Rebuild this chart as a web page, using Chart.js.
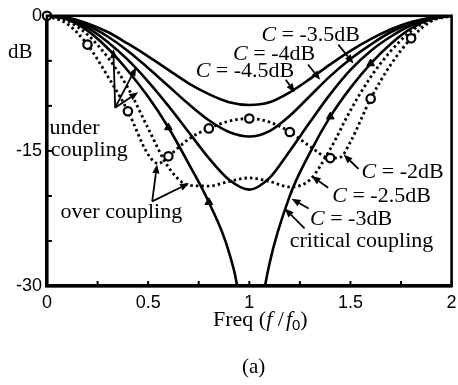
<!DOCTYPE html>
<html>
<head>
<meta charset="utf-8">
<script src="https://cdn.jsdelivr.net/npm/chart.js@4.4.0/dist/chart.umd.min.js"></script>
<style>
  html, body { margin: 0; padding: 0; background: #fff; }
  #wrap { width: 458px; height: 385px; }
</style>
</head>
<body>
<div id="wrap"><canvas id="myChart" width="458" height="385"></canvas></div>
<script>
// frequency grid (f / f0)
const freq = [0, 0.1, 0.2, 0.3, 0.4, 0.5, 0.6, 0.7, 0.8, 0.9, 1.0,
              1.1, 1.2, 1.3, 1.4, 1.5, 1.6, 1.7, 1.8, 1.9, 2.0];
const freqCrit = [0, 0.1, 0.2, 0.3, 0.4, 0.5, 0.6, 0.7, 0.8, 0.9, 0.95, 1.0, 1.05,
                  1.1, 1.2, 1.3, 1.4, 1.5, 1.6, 1.7, 1.8, 1.9, 2.0];
const freqC2 = [0, 0.1, 0.2, 0.3, 0.4, 0.5, 0.55, 0.6, 0.7, 0.8, 0.9, 1.0,
                1.1, 1.2, 1.3, 1.4, 1.45, 1.5, 1.6, 1.7, 1.8, 1.9, 2.0];

// response in dB
const under45 = [0, -0.2, -0.85, -1.8, -3.1, -4.5, -6.0, -7.5, -8.7, -9.6, -9.9,
                 -9.6, -8.5, -7.0, -5.4, -3.9, -2.6, -1.5, -0.7, -0.18, 0];
const under4 = [0, -0.27, -1.05, -2.3, -3.9, -5.8, -7.8, -9.8, -11.6, -12.9, -13.4,
                -12.8, -11.1, -8.9, -6.7, -4.8, -3.2, -1.8, -0.85, -0.22, 0];
const under35 = [0, -0.34, -1.3, -2.9, -4.9, -7.3, -10.0, -12.9, -15.8, -18.2, -19.3,
                 -18.0, -15.0, -11.8, -8.7, -6.0, -3.9, -2.3, -1.05, -0.28, 0];
const critical3 = [0, -0.42, -1.65, -3.6, -6.1, -9.0, -12.4, -16.4, -20.7, -26.3, -31.5, -45, -34,
                   -27.5, -20.0, -15.2, -11.2, -8.0, -5.3, -3.1, -1.4, -0.36, 0];
const over25 = [0, -0.55, -2.1, -4.6, -8.0, -12.5, -16.8, -18.8, -18.9, -18.4, -18.0,
                -18.4, -19.0, -18.2, -14.8, -10.5, -6.8, -3.9, -1.7, -0.45, 0];
const over2 = [0, -0.9, -3.2, -6.7, -10.6, -15.4, -16.4, -15.6, -13.7, -12.5, -11.7, -11.4,
               -11.8, -12.9, -14.5, -15.8, -15.7, -14.0, -9.2, -5.4, -2.5, -0.6, 0];

// marker positions
const circleMarks = [0, 0.2, 0.4, 0.6, 0.8, 1.0, 1.2, 1.4, 1.6, 1.8];
const triMarks = [0.6, 0.8, 1.4, 1.6];

const xTicks = [0, 0.5, 1, 1.5, 2];
const yTicks = [0, -15, -30];

const serif = '"Liberation Serif", "Times New Roman", serif';
const sans = '"Liberation Sans", Arial, sans-serif';

const pts = (xs, ys) => xs.map((x, i) => ({ x: x, y: ys[i] }));

// labels: [text after C, f, dB] (left edge, baseline)
const cLabels = [
  [' = -3.5dB', 1.06, -2.75],
  [' = -4dB', 0.92, -4.95],
  [' = -4.5dB', 0.735, -6.8],
  [' = -2dB', 1.555, -18.0],
  [' = -2.5dB', 1.41, -20.65],
  [' = -3dB', 1.30, -23.2]
];
const plainLabels = [
  ['under', 0.012, -13.1],
  ['coupling', 0.018, -15.6],
  ['over coupling', 0.067, -22.5],
  ['critical coupling', 1.2, -25.7]
];
// arrows: [f1, dB1, f2, dB2] tail -> head
const arrows = [
  [1.44, -3.2, 1.515, -5.3],
  [1.29, -5.4, 1.35, -7.1],
  [1.18, -7.1, 1.225, -8.5],
  [0.337, -10.2, 0.328, -3.7],
  [0.337, -10.2, 0.441, -5.7],
  [0.337, -10.2, 0.451, -8.5],
  [0.52, -20.6, 0.544, -16.5],
  [0.52, -20.6, 0.702, -18.6],
  [1.54, -17.0, 1.466, -15.4],
  [1.39, -19.1, 1.308, -17.8],
  [1.293, -21.4, 1.209, -20.3],
  [1.273, -23.6, 1.175, -21.4]
];

const drawArrow = (ctx, x1, y1, x2, y2) => {
  const a = Math.atan2(y2 - y1, x2 - x1);
  const len = 9, half = 3.6;
  const bx = x2 - len * Math.cos(a), by = y2 - len * Math.sin(a);
  ctx.beginPath();
  ctx.moveTo(x1, y1);
  ctx.lineTo(bx, by);
  ctx.stroke();
  ctx.beginPath();
  ctx.moveTo(x2, y2);
  ctx.lineTo(bx + half * Math.sin(a), by - half * Math.cos(a));
  ctx.lineTo(bx - half * Math.sin(a), by + half * Math.cos(a));
  ctx.closePath();
  ctx.fill();
};

const decor = {
  id: 'decor',
  afterDraw(chart) {
    const ctx = chart.ctx;
    const xs = chart.scales.x, ys = chart.scales.y, ca = chart.chartArea;
    const px = v => xs.getPixelForValue(v);
    const py = v => ys.getPixelForValue(v);
    ctx.save();
    ctx.strokeStyle = '#000';
    ctx.fillStyle = '#000';

    // frame
    ctx.lineWidth = 2.6;
    ctx.strokeRect(ca.left, ca.top, ca.right - ca.left, ca.bottom - ca.top);

    // inward ticks
    ctx.lineWidth = 2;
    xs.ticks.forEach(t => {
      const x = px(t.value);
      ctx.beginPath(); ctx.moveTo(x, ca.bottom); ctx.lineTo(x, ca.bottom - 5); ctx.stroke();
    });
    ys.ticks.forEach(t => {
      const y = py(t.value);
      ctx.beginPath(); ctx.moveTo(ca.left, y); ctx.lineTo(ca.left + 5, y); ctx.stroke();
    });

    // annotations
    ctx.textBaseline = 'alphabetic';
    ctx.textAlign = 'left';
    cLabels.forEach(l => {
      const x = px(l[1]), y = py(l[2]);
      ctx.font = 'italic 22px ' + serif;
      ctx.fillText('C', x, y);
      const w = ctx.measureText('C').width;
      ctx.font = '22px ' + serif;
      ctx.fillText(l[0], x + w, y);
    });
    ctx.font = '22px ' + serif;
    plainLabels.forEach(l => ctx.fillText(l[0], px(l[1]), py(l[2])));

    ctx.lineWidth = 1.8;
    arrows.forEach(a => drawArrow(ctx, px(a[0]), py(a[1]), px(a[2]), py(a[3])));

    // axis titles
    ctx.font = '21px ' + serif;
    ctx.fillText('dB', 8, ca.top + 42);

    let x = 213, y = ca.bottom + 40;
    const parts = [['Freq (', '22px ' + serif, 0], ['f', 'italic 22px ' + serif, 0],
                   [' /', '22px ' + serif, 0], ['f', 'italic 22px ' + serif, 0],
                   ['0', '15px ' + sans, 4], [')', '22px ' + serif, 0]];
    parts.forEach(p => {
      ctx.font = p[1];
      ctx.fillText(p[0], x, y + p[2]);
      x += ctx.measureText(p[0]).width + (p[0] === ' /' ? 2 : 0);
    });
    ctx.font = '21px ' + serif;
    ctx.fillText('(a)', 242, ca.bottom + 87);
    ctx.restore();
  }
};

const solid = (data, extra) => Object.assign({
  data: data,
  borderColor: '#000',
  borderWidth: 2.6,
  pointRadius: 0,
  cubicInterpolationMode: 'monotone',
  fill: false
}, extra || {});

new Chart(document.getElementById('myChart'), {
  type: 'line',
  data: {
    datasets: [
      solid(pts(freqC2, over2), {
        borderDash: [2.5, 3],
        borderWidth: 2.8,
        clip: false,
        pointStyle: 'circle',
        pointRadius: c => circleMarks.includes(c.raw.x) ? 4.2 : 0,
        pointBackgroundColor: '#fff',
        pointBorderColor: '#000',
        pointBorderWidth: 2.2
      }),
      solid(pts(freq, over25), { borderDash: [2.5, 3], borderWidth: 2.8 }),
      solid(pts(freqCrit, critical3), {
        pointStyle: 'triangle',
        pointRadius: c => triMarks.includes(c.raw.x) ? 4.5 : 0,
        pointBackgroundColor: '#000',
        pointBorderColor: '#000',
        pointBorderWidth: 1
      }),
      solid(pts(freq, under35)),
      solid(pts(freq, under4)),
      solid(pts(freq, under45))
    ]
  },
  options: {
    responsive: false,
    animation: false,
    devicePixelRatio: 1,
    layout: { padding: { left: 0, top: 13, right: 5, bottom: 59 } },
    plugins: { legend: { display: false }, tooltip: { enabled: false } },
    scales: {
      x: {
        type: 'linear',
        min: 0, max: 2,
        afterFit: s => { s.height = 40; s.paddingRight = 0; s.paddingLeft = 0; },
        grid: { display: false, drawTicks: false },
        border: { display: true, color: '#000', width: 3.4 },
        ticks: {
          stepSize: 0.25,
          autoSkip: false,
          maxRotation: 0,
          padding: 6,
          color: '#000',
          font: { family: sans, size: 18 },
          callback: v => xTicks.includes(v) ? String(v) : ''
        }
      },
      y: {
        min: -30, max: 0,
        afterFit: s => { s.width = 47; },
        grid: { display: false, drawTicks: false },
        border: { display: true, color: '#000', width: 3.4 },
        ticks: {
          stepSize: 5,
          autoSkip: false,
          padding: 5,
          color: '#000',
          font: { family: sans, size: 18 },
          callback: v => yTicks.includes(v) ? String(v) : ''
        }
      }
    }
  },
  plugins: [decor]
});
</script>
</body>
</html>
